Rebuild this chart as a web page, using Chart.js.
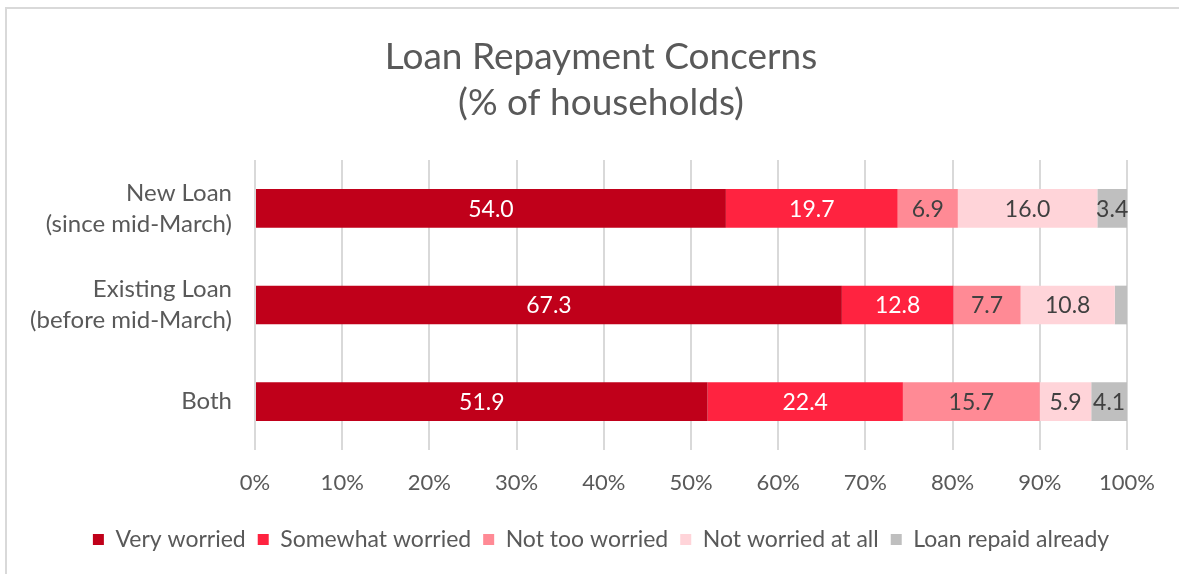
<!DOCTYPE html>
<html>
<head>
<meta charset="utf-8">
<script src="https://cdn.jsdelivr.net/npm/chart.js@4"></script>
<style>
  html, body { margin: 0; padding: 0; background: #fff; overflow: hidden; }
  #frame { position: absolute; left: 5px; top: 7px; width: 1300px; height: 700px; z-index: 2;
           border-left: 2px solid #d9d9d9; border-top: 2px solid #d9d9d9; pointer-events: none; }
  #myChart { position: absolute; left: 0; top: 0; z-index: 1; }
</style>
</head>
<body>
<canvas id="myChart" width="1179" height="574"></canvas>
<div id="frame"></div>
<script>
const categories = [
  ["New Loan", "(since mid-March)"],
  ["Existing Loan", "(before mid-March)"],
  ["Both"]
];
const seriesNames = ["Very worried", "Somewhat worried", "Not too worried", "Not worried at all", "Loan repaid already"];
const veryWorried = [54.0, 67.3, 51.9];
const somewhatWorried = [19.7, 12.8, 22.4];
const notTooWorried = [6.9, 7.7, 15.7];
const notWorriedAtAll = [16.0, 10.8, 5.9];
const loanRepaid = [3.4, 1.4, 4.1];
const axisMin = 0;
const axisMax = 100;
const axisStep = 10;

const colors = ["#c0001a", "#ff2340", "#ff8a95", "#ffd4d9", "#bfbfbf"];
const labelColors = ["#ffffff", "#ffffff", "#404040", "#404040", "#404040"];
const textGrey = "#595959";
const fontFamily = "Lato, 'Open Sans', sans-serif";

const chart = document.querySelector("#myChart");

// draws the value inside each segment (no datalabels plugin available offline)
const segmentLabels = {
  id: "segmentLabels",
  afterDatasetsDraw(c) {
    const ctx = c.ctx;
    ctx.save();
    ctx.font = `23px ${fontFamily}`;
    ctx.textAlign = "center";
    ctx.textBaseline = "middle";
    c.data.datasets.forEach((ds, i) => {
      const meta = c.getDatasetMeta(i);
      meta.data.forEach((bar, j) => {
        const v = ds.data[j];
        if (v < 2) return;
        ctx.fillStyle = labelColors[i];
        ctx.fillText(v.toFixed(1), (bar.x + bar.base) / 2, bar.y + 1);
      });
    });
    ctx.restore();
  }
};

const whiteBg = {
  id: "whiteBg",
  beforeDraw(c) {
    const ctx = c.ctx;
    ctx.save();
    ctx.fillStyle = "#fff";
    ctx.fillRect(0, 0, c.width, c.height);
    ctx.restore();
  }
};

const seriesData = [veryWorried, somewhatWorried, notTooWorried, notWorriedAtAll, loanRepaid];
const datasets = seriesData.map((data, i) => ({
  label: seriesNames[i],
  data: data,
  backgroundColor: colors[i],
  borderWidth: 0,
  categoryPercentage: 1,
  barPercentage: 0.4
}));

const config = {
  type: "bar",
  data: { labels: categories, datasets },
  plugins: [whiteBg, segmentLabels],
  options: {
    indexAxis: "y",
    responsive: false,
    animation: false,
    layout: { padding: { left: 75, right: 52, top: 0, bottom: 13 } },
    plugins: {
      title: {
        display: true,
        text: ["Loan Repayment Concerns", "(% of households)"],
        color: textGrey,
        font: { family: fontFamily, size: 37, weight: "normal", lineHeight: 46 / 37 },
        padding: { top: 34, bottom: 34 }
      },
      legend: {
        position: "bottom",
        labels: {
          color: textGrey,
          font: { family: fontFamily, size: 23 },
          boxWidth: 11,
          boxHeight: 11,
          padding: 12
        }
      },
      tooltip: { enabled: false }
    },
    scales: {
      x: {
        stacked: true,
        min: axisMin,
        max: axisMax,
        ticks: {
          stepSize: axisStep,
          color: textGrey,
          font: { family: fontFamily, size: 22 },
          padding: 20,
          callback: (v) => v + "%"
        },
        grid: { color: "#d9d9d9", lineWidth: 2, drawTicks: false },
        border: { display: false },
        afterFit(scale) {
          scale.height = 66;
          scale.paddingLeft = 0;
          scale.paddingRight = 0;
        }
      },
      y: {
        stacked: true,
        ticks: {
          color: textGrey,
          font: { family: fontFamily, size: 24, lineHeight: 31 / 24 },
          padding: 23
        },
        grid: { display: false, drawTicks: false },
        border: { display: false },
        afterFit(scale) {
          scale.width = 180;
          // labels reach past the left padding, so do not clip them to the axis box
          scale._computeLabelArea = () => undefined;
        }
      }
    }
  }
};

new Chart(chart, config);
</script>
</body>
</html>
